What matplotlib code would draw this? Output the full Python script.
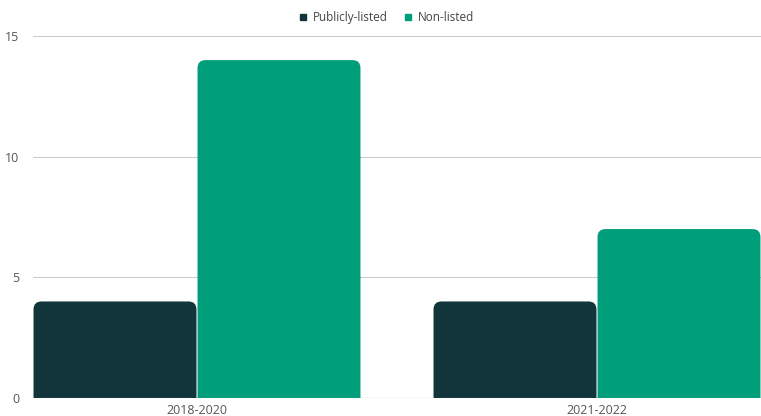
import matplotlib.pyplot as plt
from matplotlib.patches import FancyBboxPatch
from matplotlib.lines import Line2D
import numpy as np

periods = ['2018-2020', '2021-2022']
series = ['Publicly-listed', 'Non-listed']
publicly_listed = [4, 4]
non_listed = [14, 7]
colors = ['#12343b', '#009e7a']

plt.rcParams['font.family'] = ['Open Sans', 'DejaVu Sans']

fig = plt.figure(figsize=(7.61, 4.16), dpi=100)
ax = fig.add_axes([33 / 761, 18 / 416, 728 / 761, 362 / 416])

width = 0.41
x = np.arange(len(periods))
ax.set_xlim(-0.41, 1.41)
ax.set_ylim(0, 15)

# rounding radius in pixels, converted to data units for each axis
x_per_px = 1.82 / 728
y_per_px = 15 / 362
radius = 8 * x_per_px
aspect = y_per_px / x_per_px

for values, offset, color in zip([publicly_listed, non_listed], [-width / 2, width / 2], colors):
    for xi, v in zip(x, values):
        left = xi + offset - width / 2 + 0.0013
        bar = FancyBboxPatch((left, -1), width - 0.0026, v + 1,
                             boxstyle='round,pad=0,rounding_size=%f' % radius,
                             mutation_aspect=aspect, facecolor=color,
                             edgecolor='none', zorder=3)
        ax.add_patch(bar)

ax.set_yticks([0, 5, 10, 15])
ax.grid(axis='y', color='#cccccc', linewidth=0.8, zorder=0)
ax.axhline(0, color='#999999', linewidth=0.8, zorder=4)
ax.set_xticks(x)
ax.set_xticklabels(periods)
ax.tick_params(axis='both', length=0, labelsize=9, colors='#555555')
ax.tick_params(axis='y', pad=10)
ax.tick_params(axis='x', pad=4)
for s in ax.spines.values():
    s.set_visible(False)

handles = [Line2D([], [], marker='s', linestyle='none', markersize=4,
                  markerfacecolor=c, markeredgecolor=c) for c in colors]
fig.legend(handles, series, loc='center', bbox_to_anchor=(0.5 + 6 / 761, 1 - 17.5 / 416),
           ncol=2, frameon=False, fontsize=8.5, handlelength=0.7,
           handletextpad=0.5, columnspacing=1.4, labelcolor='#444444')

fig.savefig('out.png', dpi=100)
